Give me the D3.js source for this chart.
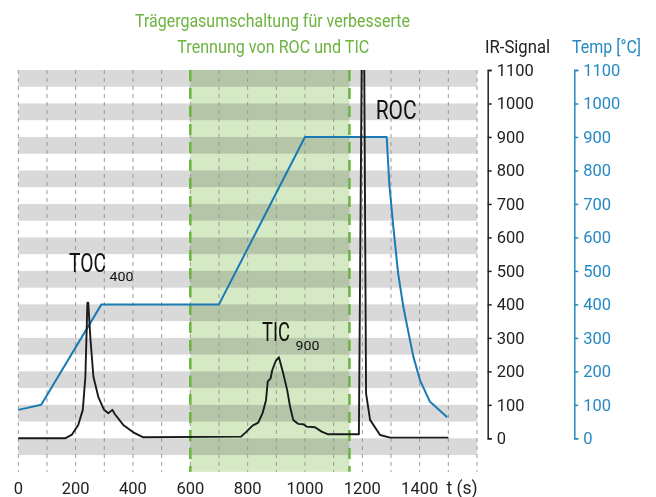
<!DOCTYPE html>
<html>
<head>
<meta charset="utf-8">
<script src="https://cdn.jsdelivr.net/npm/d3@7"></script>
<style>
  html, body { margin: 0; padding: 0; background: #fff; }
  svg { display: block; font-family: Roboto, "Open Sans", sans-serif; }
</style>
</head>
<body>
<svg id="chart" width="656" height="497"></svg>
<script>
// ---------- data ----------
const xTicks = [0, 200, 400, 600, 800, 1000, 1200, 1400];
const yTicks = [0, 100, 200, 300, 400, 500, 600, 700, 800, 900, 1000, 1100];
const switchStart = 600;
const switchEnd = 1155;

// temperature program (°C)
const tempT = [0, 80, 290, 700, 1000, 1285, 1294, 1308, 1325, 1343, 1364, 1378, 1401, 1436, 1448, 1496];
const tempV = [85, 100, 400, 400, 900, 900, 761, 632, 492, 393, 303, 244, 174, 109, 100, 63];

// IR signal
const irT = [0, 163, 186, 209, 225, 234, 241, 244, 252, 262, 279, 299, 314, 328, 337, 366, 401, 436, 777,
             796, 817, 837, 852, 864, 870, 880, 886, 898, 909, 924, 938, 948, 959, 977, 994, 1006, 1035, 1058, 1081,
             1188, 1203, 1213, 1227, 1262, 1297, 1500];
const irV = [0, 0, 10, 40, 85, 184, 405, 405, 293, 184, 124, 85, 75, 85, 72, 40, 18, 3, 5,
             20, 38, 47, 75, 114, 169, 179, 204, 231, 242, 194, 144, 94, 55, 43, 42, 35, 33, 20, 12,
             12, 1700, 134, 55, 10, 2, 2];

const titleLines = ["Trägergasumschaltung für verbesserte", "Trennung von ROC und TIC"];

// ---------- layout ----------
const svg = d3.select("#chart");
const x = d3.scaleLinear().domain([0, 1600]).range([18.3, 477]);
const y = d3.scaleLinear().domain([-100, 1100]).range([471.8, 70]);
const yAxisScale = d3.scaleLinear().domain([0, 1100]).range([y(0), y(1100)]);

const green = "#6cb33f";
const blue = "#1a7ab5";
const blueAxis = "#2689c2";
const dark = "#222";

// horizontal gray bands
const bandStarts = d3.range(0, 1200, 100);
svg.append("g").selectAll("rect").data(bandStarts).join("rect")
  .attr("x", x(0)).attr("width", x(1600) - x(0))
  .attr("y", d => y(d)).attr("height", d => y(d - 50) - y(d))
  .attr("fill", "#d9d9d9");

// green switching region (multiply blend)
svg.append("rect")
  .attr("x", x(switchStart)).attr("width", x(switchEnd) - x(switchStart))
  .attr("y", y(1100)).attr("height", y(-100) - y(1100))
  .attr("fill", "#d4e9c4")
  .style("mix-blend-mode", "multiply");

// vertical dashed grid
svg.append("g").selectAll("line").data(d3.range(0, 1700, 100)).join("line")
  .attr("x1", d => x(d)).attr("x2", d => x(d))
  .attr("y1", y(1100)).attr("y2", y(-100))
  .attr("stroke", "#9a9a9a").attr("stroke-width", 1)
  .attr("stroke-dasharray", "4,4");

// green dashed borders
svg.append("g").selectAll("line").data([switchStart, switchEnd]).join("line")
  .attr("x1", d => x(d)).attr("x2", d => x(d))
  .attr("y1", y(1100)).attr("y2", y(-100))
  .attr("stroke", green).attr("stroke-width", 2.5)
  .attr("stroke-dasharray", "11,7");

// clip
svg.append("clipPath").attr("id", "plotClip").append("rect")
  .attr("x", x(0) - 2).attr("y", y(1100)).attr("width", x(1600) - x(0) + 4).attr("height", y(-100) - y(1100));

// temperature line
const tempData = tempT.map((t, i) => [t, tempV[i]]);
svg.append("path").datum(tempData)
  .attr("clip-path", "url(#plotClip)")
  .attr("fill", "none").attr("stroke", blue).attr("stroke-width", 2)
  .attr("stroke-linejoin", "round")
  .attr("d", d3.line().x(d => x(d[0])).y(d => y(d[1])));

// IR line
const irData = irT.map((t, i) => [t, irV[i]]);
svg.append("path").datum(irData)
  .attr("clip-path", "url(#plotClip)")
  .attr("fill", "none").attr("stroke", "#1a1a1a").attr("stroke-width", 1.9)
  .attr("stroke-linejoin", "round")
  .attr("d", d3.line().x(d => x(d[0])).y(d => y(d[1])));

// bottom tick labels
svg.append("g").selectAll("text").data(xTicks).join("text")
  .attr("x", d => x(d)).attr("y", 494)
  .attr("text-anchor", "middle")
  .attr("font-size", 16.5).attr("fill", dark)
  .text(d => d);
svg.append("text").attr("x", 446.5).attr("y", 494)
  .attr("font-size", 17.5).attr("fill", dark).text("t (s)");

// right axes
function styleAxis(g, color) {
  g.select(".domain").attr("stroke", color).attr("stroke-width", 1.5);
  g.selectAll(".tick line").attr("stroke", color).attr("stroke-width", 1.5);
  g.selectAll(".tick text").attr("fill", color).attr("font-size", 16.5)
    .attr("font-family", "Roboto, 'Open Sans', sans-serif");
}
const fmt = d3.format("d");
const irAxis = svg.append("g").attr("transform", "translate(487.7,0)")
  .call(d3.axisRight(yAxisScale).tickValues(yTicks).tickFormat(fmt).tickSize(4).tickSizeOuter(4).tickPadding(5));
styleAxis(irAxis, dark);
const tAxis = svg.append("g").attr("transform", "translate(574.3,0)")
  .call(d3.axisRight(yAxisScale).tickValues(yTicks).tickFormat(fmt).tickSize(4).tickSizeOuter(4).tickPadding(5));
styleAxis(tAxis, blueAxis);

// axis titles
svg.append("text").attr("x", 485).attr("y", 52.7).attr("font-size", 17.5).attr("fill", dark)
  .attr("textLength", 65).attr("lengthAdjust", "spacingAndGlyphs").text("IR-Signal");
svg.append("text").attr("x", 572).attr("y", 52.7).attr("font-size", 17.5).attr("fill", blueAxis)
  .attr("textLength", 69).attr("lengthAdjust", "spacingAndGlyphs").text("Temp [°C]");

// title
svg.append("text").attr("x", 135).attr("y", 27.3).attr("font-size", 19).attr("fill", green)
  .attr("textLength", 275).attr("lengthAdjust", "spacingAndGlyphs").text(titleLines[0]);
svg.append("text").attr("x", 177.3).attr("y", 53.3).attr("font-size", 19).attr("fill", green)
  .attr("textLength", 192).attr("lengthAdjust", "spacingAndGlyphs").text(titleLines[1]);

// condensed text via transform (so bounding boxes match what is drawn)
function condensed(str, x0, b0, width, size) {
  const t = svg.append("text").attr("x", 0).attr("y", 0)
    .attr("font-size", size).attr("fill", "#111").text(str);
  const natural = t.node().getComputedTextLength();
  const sx = natural > 0 ? width / natural : 1;
  t.attr("transform", `translate(${x0},${b0}) scale(${sx},1)`);
  return t;
}
condensed("TOC", 69, 271.7, 37, 25);
condensed("400", 109.5, 281, 24, 13);
condensed("TIC", 262, 340.7, 28, 25);
condensed("900", 295.5, 349.5, 24, 13);
condensed("ROC", 375.7, 119.3, 41, 25);
</script>
</body>
</html>
